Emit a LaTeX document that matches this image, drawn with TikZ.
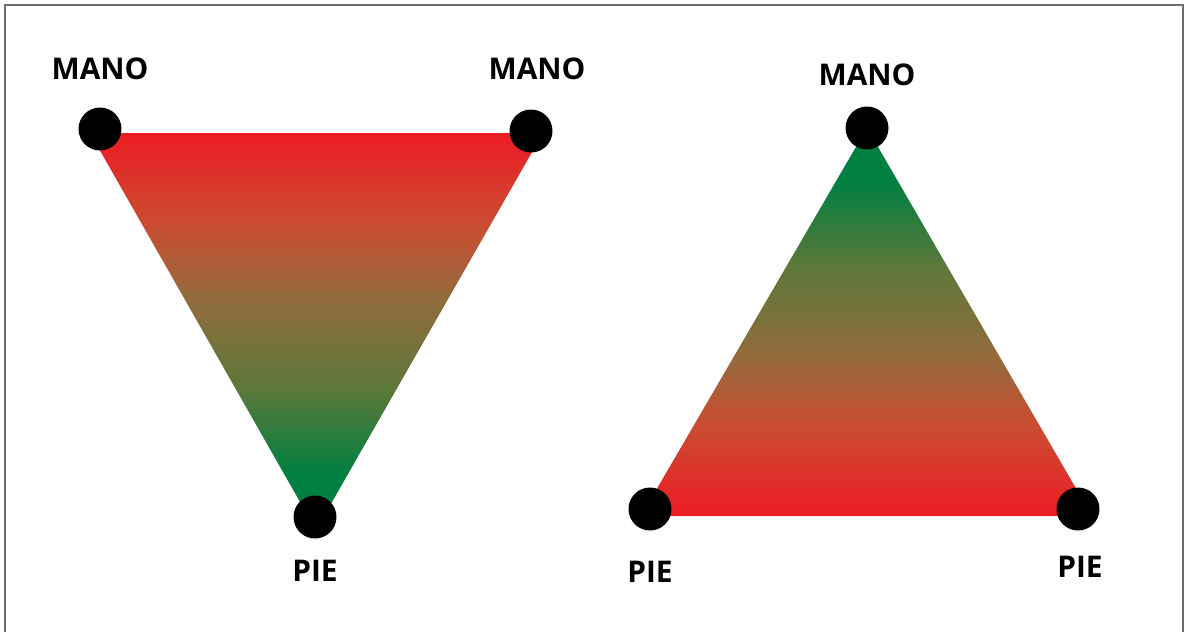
\documentclass[tikz,border=0pt]{standalone}
\usepackage{fontspec}
\setsansfont{Open Sans}
\usepackage{tikz}
\usetikzlibrary{positioning}
\definecolor{hotred}{RGB}{237,28,36}
\definecolor{rustred}{RGB}{200,78,50}
\definecolor{mudbrown}{RGB}{145,108,60}
\definecolor{olivegreen}{RGB}{93,120,58}
\definecolor{deepgreen}{RGB}{0,128,64}
\definecolor{framegray}{RGB}{110,110,110}
\pgfdeclareverticalshading{redtogreen}{100bp}{color(0bp)=(deepgreen); color(32bp)=(deepgreen); color(43bp)=(olivegreen); color(54bp)=(mudbrown); color(63bp)=(rustred); color(75bp)=(hotred); color(100bp)=(hotred)}

\begin{document}
\begin{tikzpicture}[x=0.02cm, y=-0.02cm,
    joint/.style={circle, fill=black, minimum size=0.86cm, inner sep=0pt},
    limb/.style={font=\sffamily\bfseries\fontsize{17}{20}\selectfont, inner sep=0pt}]
      \useasboundingbox (0,0) rectangle (1187,632);
      \draw[framegray, line width=0.04cm] (5,632) -- (5,5) -- (1183,5) -- (1183,632);

      \coordinate (l1) at (90,133);
      \coordinate (l2) at (543,133);
      \coordinate (l3) at (316,530);
      \coordinate (r1) at (867,128);
      \coordinate (r2) at (641,516);
      \coordinate (r3) at (1092,516);
      \shade[shading=redtogreen] (l1) -- (l2) -- (l3) -- cycle;
      \shade[shading=redtogreen, shading angle=180] (r1) -- (r2) -- (r3) -- cycle;

      \node[joint] (lhandA) at (100,129) {};
      \node[joint] (lhandB) at (531,131) {};
      \node[joint] (lfoot) at (315,517) {};
      \node[joint] (rhand) at (867,128) {};
      \node[joint] (rfootA) at (650,509) {};
      \node[joint] (rfootB) at (1078,509) {};

      \node[limb] (tlhandA) at (100,69) {MANO};
      \node[limb] (tlhandB) at (537,69) {MANO};
      \node[limb] (tlfoot) at (315,571) {PIE};
      \node[limb] (trhand) at (867,75) {MANO};
      \node[limb] (trfootA) at (650,572) {PIE};
      \node[limb] (trfootB) at (1080,567) {PIE};
    \end{tikzpicture}
\end{document}
